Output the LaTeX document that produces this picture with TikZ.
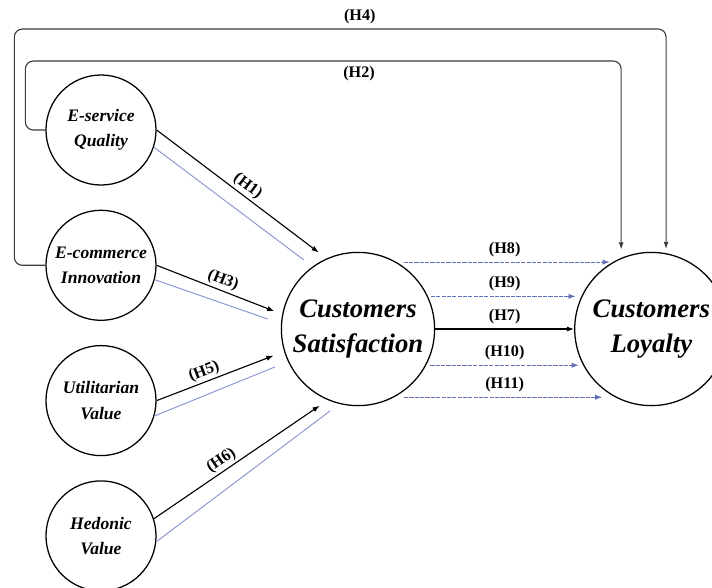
\documentclass[tikz,border=0pt]{standalone}
\usepackage{fontspec}
\setmainfont{Liberation Serif}
\usepackage{tikz}
\usetikzlibrary{arrows.meta, positioning, calc}
\definecolor{pathblue}{RGB}{140,152,210}
\definecolor{dashblue}{RGB}{100,112,180}
\definecolor{loopgray}{RGB}{60,60,60}

\begin{document}
\begin{tikzpicture}[
    x=0.025cm, y=-0.025cm,
    every node/.style={font=\fontsize{11.5}{13}\selectfont\bfseries, text=black},
    construct/.style={circle, draw=black, line width=0.9pt, minimum size=2.75cm, inner sep=0pt, align=center, font=\fontsize{12.5}{18}\selectfont\bfseries\itshape},
    outcome/.style={construct, minimum size=3.83cm, font=\fontsize{19}{25}\selectfont\bfseries\itshape},
    direct/.style={-{Latex[length=1.8mm,width=1.3mm]}, line width=0.8pt, black},
    shadowline/.style={pathblue, line width=0.7pt},
    mediated/.style={-{Latex[length=1.8mm,width=1.3mm]}, dashblue, line width=0.7pt, dash pattern=on 3pt off 0.8pt},
    feedback/.style={-{Latex[length=1.8mm,width=1.3mm]}, loopgray, line width=0.8pt, rounded corners=0.2cm}
]
\useasboundingbox (0,0) rectangle (712,587);

% constructs
\node[construct] (esq) at (101,130) {E-service\\Quality};
\node[construct, below=0.6cm of esq] (eci) {E-commerce\\Innovation};
\node[construct, below=0.6cm of eci] (uv) {Utilitarian\\Value};
\node[construct, below=0.6cm of uv] (hv) {Hedonic\\Value};
\node[outcome] (cs) at (358,329) {Customers\\Satisfaction};
\node[outcome, right=3.47cm of cs] (cl) {Customers\\Loyalty};

% antecedents -> satisfaction
\draw[direct, shorten >=7pt] (esq.0) -- node[sloped, above, inner sep=1.5pt]{(H1)} (cs.114);
\draw[shadowline, shorten >=8pt] (esq.-18) -- (cs.126);
\draw[direct, shorten >=6pt] (eci.0) -- node[sloped, above, inner sep=1.5pt]{(H3)} (cs.169);
\draw[shadowline, shorten >=10pt] (eci.-15) -- (cs.176);
\draw[direct, shorten >=8pt] (uv.0) -- node[sloped, above, pos=0.4, inner sep=1.5pt]{(H5)} (cs.197);
\draw[shadowline, shorten >=10pt] (uv.-16) -- (cs.205);
\draw[direct, shorten >=7pt] (hv.18) -- node[sloped, above, pos=0.42, inner sep=1.5pt]{(H6)} (cs.247);
\draw[shadowline, shorten >=8pt] (hv.-6) -- (cs.256);

% satisfaction -> loyalty
\draw[mediated, shorten <=5pt, shorten >=2pt] (cs.60) -- node[above]{(H8)} (cl.120);
\draw[mediated, shorten <=2pt, shorten >=4pt] (cs.25) -- node[above]{(H9)} (cl.155);
\draw[direct] (cs.0) -- node[above]{(H7)} (cl.180);
\draw[mediated, shorten <=3pt, shorten >=3pt] (cs.-28) -- node[above]{(H10)} (cl.-152);
\draw[mediated, shorten <=7pt, shorten >=9pt] (cs.-62) -- node[above]{(H11)} (cl.-118);

% direct paths to loyalty
\coordinate (h4lvl) at (0,29);
\coordinate (h2lvl) at (0,61);
\draw[feedback, shorten >=3pt] (eci.west) -- ++(-31,0) |- node[pos=0.765, above]{(H4)} (cl.79 |- h4lvl) -- (cl.79);
\draw[feedback, shorten >=6pt] (esq.west) -- ++(-20,0) |- node[pos=0.78, below]{(H2)} (cl.113 |- h2lvl) -- (cl.113);

\end{tikzpicture}
\end{document}
